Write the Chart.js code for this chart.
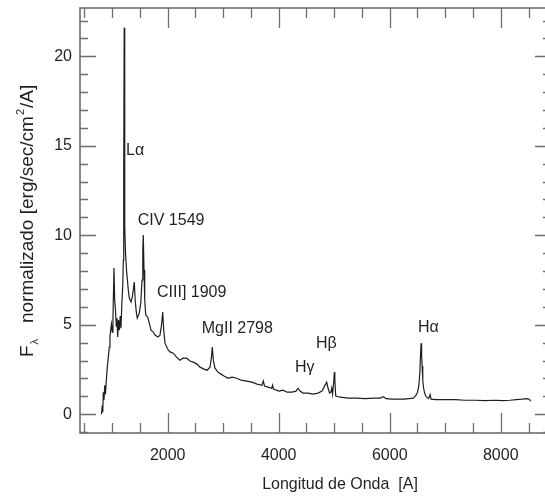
<!DOCTYPE html>
<html>
<head>
<meta charset="utf-8">
<script src="https://cdn.jsdelivr.net/npm/chart.js@4.4.0/dist/chart.umd.min.js"></script>
<style>
  html, body { margin: 0; padding: 0; background: #fff; overflow: hidden; }
  #wrap { position: relative; width: 560px; height: 501px; }
</style>
</head>
<body>
<div id="wrap"><canvas id="spectrum"></canvas></div>
<script>
// composite spectrum, wavelength in Angstrom
const wavelength = [807, 821, 830, 840, 852, 866, 879, 894, 912, 930, 948, 960, 973, 987, 1002, 1014, 1032, 1045, 1059, 1074,
  1086, 1099, 1113, 1128, 1144, 1158, 1173, 1191, 1200, 1208, 1216, 1222, 1230, 1240, 1258, 1290, 1308, 1339, 1362, 1384,
  1398, 1414, 1434, 1452, 1488, 1515, 1537, 1551, 1560, 1573, 1586, 1604, 1640, 1668, 1699, 1741, 1771, 1825, 1861, 1888,
  1910, 1928, 1951, 2011, 2050, 2101, 2159, 2222, 2276, 2342, 2402, 2461, 2528, 2582, 2654, 2708, 2762, 2786, 2804, 2822,
  2852, 2906, 2960, 3015, 3087, 3159, 3243, 3321, 3424, 3519, 3609, 3699, 3723, 3744, 3807, 3874, 3889, 3906, 4006, 4078,
  4150, 4240, 4312, 4348, 4384, 4438, 4528, 4618, 4708, 4780, 4826, 4865, 4889, 4916, 4940, 4955, 4970, 4993, 5002, 5011,
  5027, 5105, 5249, 5393, 5555, 5717, 5826, 5885, 5934, 6042, 6150, 6258, 6348, 6426, 6474, 6501, 6525, 6543, 6556, 6565,
  6574, 6583, 6595, 6610, 6628, 6655, 6700, 6727, 6745, 6835, 6997, 7177, 7357, 7537, 7718, 7898, 8042, 8168, 8276, 8384,
  8469, 8510, 8541];
const flux = [0.00, 0.50, 0.11, 1.23, 0.78, 1.62, 1.12, 1.90, 2.63, 3.19, 3.75, 4.36, 4.70, 5.04, 4.59, 5.37, 8.17, 6.38, 5.82, 4.92,
  5.37, 4.31, 5.26, 4.70, 5.48, 4.81, 6.10, 7.22, 8.60, 13.5, 21.6, 15.5, 10.5, 9.00, 8.06, 6.94, 6.49, 6.27, 6.55, 7.05,
  7.39, 6.38, 5.71, 5.37, 5.65, 6.21, 7.50, 9.18, 10.02, 8.06, 6.38, 5.54, 5.43, 5.09, 4.70, 4.59, 4.42, 4.31, 4.42, 4.98,
  5.71, 4.70, 3.97, 3.58, 3.47, 3.41, 3.19, 3.02, 3.13, 3.13, 2.97, 2.91, 2.80, 2.63, 2.52, 2.46, 2.63, 3.13, 3.75, 3.02,
  2.57, 2.35, 2.24, 2.13, 2.01, 2.07, 2.01, 1.90, 1.85, 1.79, 1.68, 1.62, 1.85, 1.57, 1.51, 1.45, 1.62, 1.40, 1.29, 1.34,
  1.23, 1.23, 1.29, 1.45, 1.29, 1.18, 1.18, 1.12, 1.18, 1.29, 1.57, 1.79, 1.45, 1.18, 1.23, 1.45, 1.12, 1.90, 2.35, 1.90,
  1.01, 0.95, 0.90, 0.90, 0.87, 0.90, 0.90, 0.98, 0.87, 0.84, 0.84, 0.84, 0.87, 0.90, 1.06, 1.23, 1.62, 2.35, 3.47, 3.97,
  3.30, 2.69, 1.90, 1.45, 1.18, 0.98, 0.87, 1.09, 0.84, 0.81, 0.81, 0.81, 0.78, 0.78, 0.76, 0.78, 0.76, 0.78, 0.81, 0.84,
  0.87, 0.84, 0.73];

const xTickLabels = [2000, 4000, 6000, 8000];
const yTickLabels = [0, 5, 10, 15, 20];

// emission line names, anchored in data units (left edge, baseline)
const lineNames = ['L\u03b1', 'CIV 1549', 'CIII] 1909', 'MgII 2798', 'H\u03b3', 'H\u03b2', 'H\u03b1'];
const lineAnchors = [[1249, 14.5], [1460, 10.58], [1807, 6.55], [2613, 4.53], [4294, 2.35], [4672, 3.69], [6510, 4.59]];

const FONT = "'Liberation Sans', Arial, Helvetica, sans-serif";
const TEXT = '#231f20';
const FRAME = '#6e6e6e';

const framePlugin = {
  id: 'frame',
  afterDraw(chart) {
    const { ctx, chartArea: a } = chart;
    const xs = chart.scales.x, ys = chart.scales.y;
    ctx.save();
    ctx.strokeStyle = FRAME;
    ctx.lineWidth = 1.6;
    ctx.strokeRect(a.left, a.top, a.right - a.left, a.bottom - a.top);

    ctx.lineWidth = 1.3;
    ctx.beginPath();
    for (let v = 500; v <= 8500; v += 500) {
      const px = Math.round(xs.getPixelForValue(v)) + 0.5;
      const len = v % 2000 === 0 ? 20 : 10;
      ctx.moveTo(px, a.bottom); ctx.lineTo(px, a.bottom - len);
      ctx.moveTo(px, a.top); ctx.lineTo(px, a.top + len);
    }
    for (let v = -1; v <= 22; v++) {
      const py = Math.round(ys.getPixelForValue(v)) + 0.5;
      const len = v % 5 === 0 ? 16 : 8;
      ctx.moveTo(a.left, py); ctx.lineTo(a.left + len, py);
      ctx.moveTo(a.right, py); ctx.lineTo(a.right - len, py);
    }
    ctx.stroke();

    // line identifications
    ctx.fillStyle = TEXT;
    ctx.font = '16px ' + FONT;
    ctx.textAlign = 'left';
    ctx.textBaseline = 'alphabetic';
    lineNames.forEach((name, i) => {
      const [w, f] = lineAnchors[i];
      ctx.fillText(name, xs.getPixelForValue(w), ys.getPixelForValue(f));
    });

    // x axis title
    ctx.textAlign = 'center';
    ctx.fillText('Longitud de Onda  [A]', 340, 489);

    // y axis title, rotated, with subscript and superscript
    ctx.translate(33, 357);
    ctx.rotate(-Math.PI / 2);
    ctx.textAlign = 'left';
    let x = 0;
    const big = '19px ' + FONT, small = '11px ' + FONT;
    ctx.font = big;
    ctx.fillText('F', x, 0); x += ctx.measureText('F').width;
    ctx.font = small;
    ctx.fillText('\u03bb', x + 1, 5); x += ctx.measureText('\u03bb').width + 1;
    ctx.font = big;
    const mid = '   normalizado [erg/sec/cm';
    ctx.fillText(mid, x, 0); x += ctx.measureText(mid).width;
    ctx.font = small;
    ctx.fillText('2', x + 1, -9); x += ctx.measureText('2').width + 2;
    ctx.font = big;
    ctx.fillText('/A]', x, 0);
    ctx.restore();
  }
};

// keep the plot box fixed: drop the edge padding Chart.js reserves for labels
const noEdgePad = s => { s.paddingTop = 0; s.paddingBottom = 0; s.paddingLeft = 0; s.paddingRight = 0; };

new Chart(document.getElementById('spectrum'), {
  type: 'line',
  data: {
    datasets: [{
      data: wavelength.map((w, i) => ({ x: w, y: flux[i] })),
      borderColor: '#1e1e1e',
      borderWidth: 1.2,
      pointRadius: 0,
      tension: 0,
      fill: false
    }]
  },
  options: {
    responsive: true,
    maintainAspectRatio: false,
    animation: false,
    layout: { padding: { top: 8, right: 9, left: 0, bottom: 0 } },
    plugins: { legend: { display: false }, tooltip: { enabled: false } },
    scales: {
      x: {
        type: 'linear',
        min: 420,
        max: 8905,
        grid: { display: false, drawTicks: false, tickLength: 0 },
        border: { display: false },
        afterBuildTicks: s => { s.ticks = xTickLabels.map(v => ({ value: v })); },
        afterFit: s => { s.height = 68; noEdgePad(s); },
        ticks: {
          color: TEXT, font: { family: FONT, size: 16 }, padding: 13, maxRotation: 0, autoSkip: false,
          callback: v => String(v)
        }
      },
      y: {
        type: 'linear',
        min: -1.05,
        max: 22.7,
        grid: { display: false, drawTicks: false, tickLength: 0 },
        border: { display: false },
        afterBuildTicks: s => { s.ticks = yTickLabels.map(v => ({ value: v })); },
        afterFit: s => { s.width = 80; noEdgePad(s); },
        ticks: { color: TEXT, font: { family: FONT, size: 16 }, padding: 8, callback: v => String(v) }
      }
    }
  },
  plugins: [framePlugin]
});
</script>
</body>
</html>
